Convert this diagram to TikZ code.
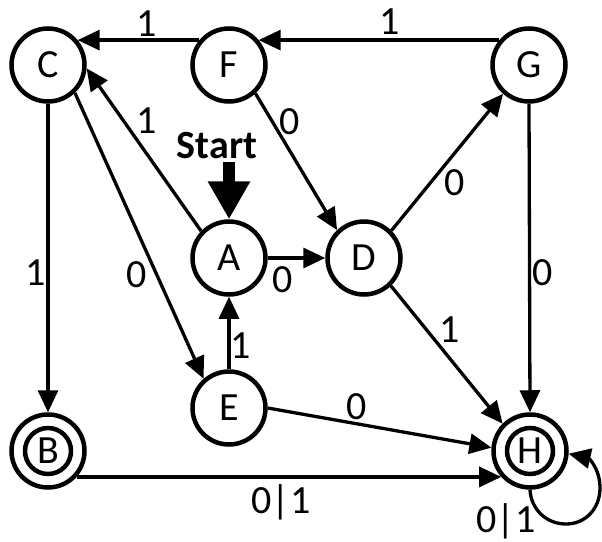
\documentclass[tikz,border=0pt]{standalone}
\usepackage{fontspec}
\setmainfont{Carlito}
\usetikzlibrary{arrows.meta}
\begin{document}
\begin{tikzpicture}[x=1pt,y=-1pt,
  state/.style={circle,draw,line width=4.5pt,minimum size=73pt,inner sep=0pt,
    font=\fontsize{40}{44}\selectfont},
  inring/.style={circle,draw,line width=4.5pt,minimum size=46pt,inner sep=0pt},
  lbl/.style={inner sep=0pt,font=\fontsize{40}{44}\selectfont},
  edge/.style={line width=3.3pt,-{Triangle[length=22pt,width=20pt]}},
  startarrow/.style={line width=12pt,-{Triangle[length=38pt,width=40pt]}}]
\useasboundingbox (0,0) rectangle (602,541);
% states
\node[state] (C) at (48,65) {C};
\node[state] (F) at (229,65) {F};
\node[state] (G) at (529,65) {G};
\node[state] (A) at (229,258) {A};
\node[state] (D) at (364,258) {D};
\node[state] (E) at (229,408) {E};
\node[state] (B) at (48,451) {};
\node[inring] (Bin) at (B) {};
\node[lbl] (Bt) at (B) {B};
\node[state] (H) at (530,451) {};
\node[inring] (Hin) at (H) {};
\node[lbl] (Ht) at (H) {H};
% start
\node[lbl,font=\bfseries\fontsize{40}{44}\selectfont] (start) at (217,146) {Start};
\coordinate (st) at (229,162);
\draw[startarrow] (st) -- (A.90);
% edges
\draw[edge] (F.140) -- (C.40);
\draw[edge] (G.140) -- (F.40);
\draw[edge] (C.-90) -- (B.90);
\draw[edge] (C.-46) -- (E.131);
\draw[edge] (A.136) -- (C.-5);
\draw[edge] (F.-47) -- (D.134);
\draw[edge] (D.45) -- (G.-132);
\draw[edge] (A.0) -- (D.180);
\draw[edge] (E.90) -- (A.-90);
\draw[edge] (D.-46) -- (H.135);
\draw[edge] (G.-90) -- (H.90);
\draw[edge] (E.0) -- (H.175);
\draw[edge] (B.-42) -- (H.-138);
\draw[edge] (H.-90) .. controls (531,509) and (546,524) .. (566,524)
  .. controls (586,524) and (600,508) .. (600,488)
  .. controls (600,468) and (588,458) .. (H.-4);
% labels
\node[lbl] (l1) at (147,24) {1};
\node[lbl] (l2) at (390,22) {1};
\node[lbl] (l3) at (147,121) {1};
\node[lbl] (l4) at (290,122) {0};
\node[lbl] (l5) at (455,183) {0};
\node[lbl] (l6) at (36,273) {1};
\node[lbl] (l7) at (137,275) {0};
\node[lbl] (l8) at (283,280) {0};
\node[lbl] (l9) at (241,346) {1};
\node[lbl] (l10) at (543,273) {0};
\node[lbl] (l11) at (450,330) {1};
\node[lbl] (l12) at (357,407) {0};
\node[lbl,anchor=base] (l13) at (281,513) {0|1};
\node[lbl,anchor=base] (l14) at (506,532) {0|1};
\end{tikzpicture}
\end{document}
